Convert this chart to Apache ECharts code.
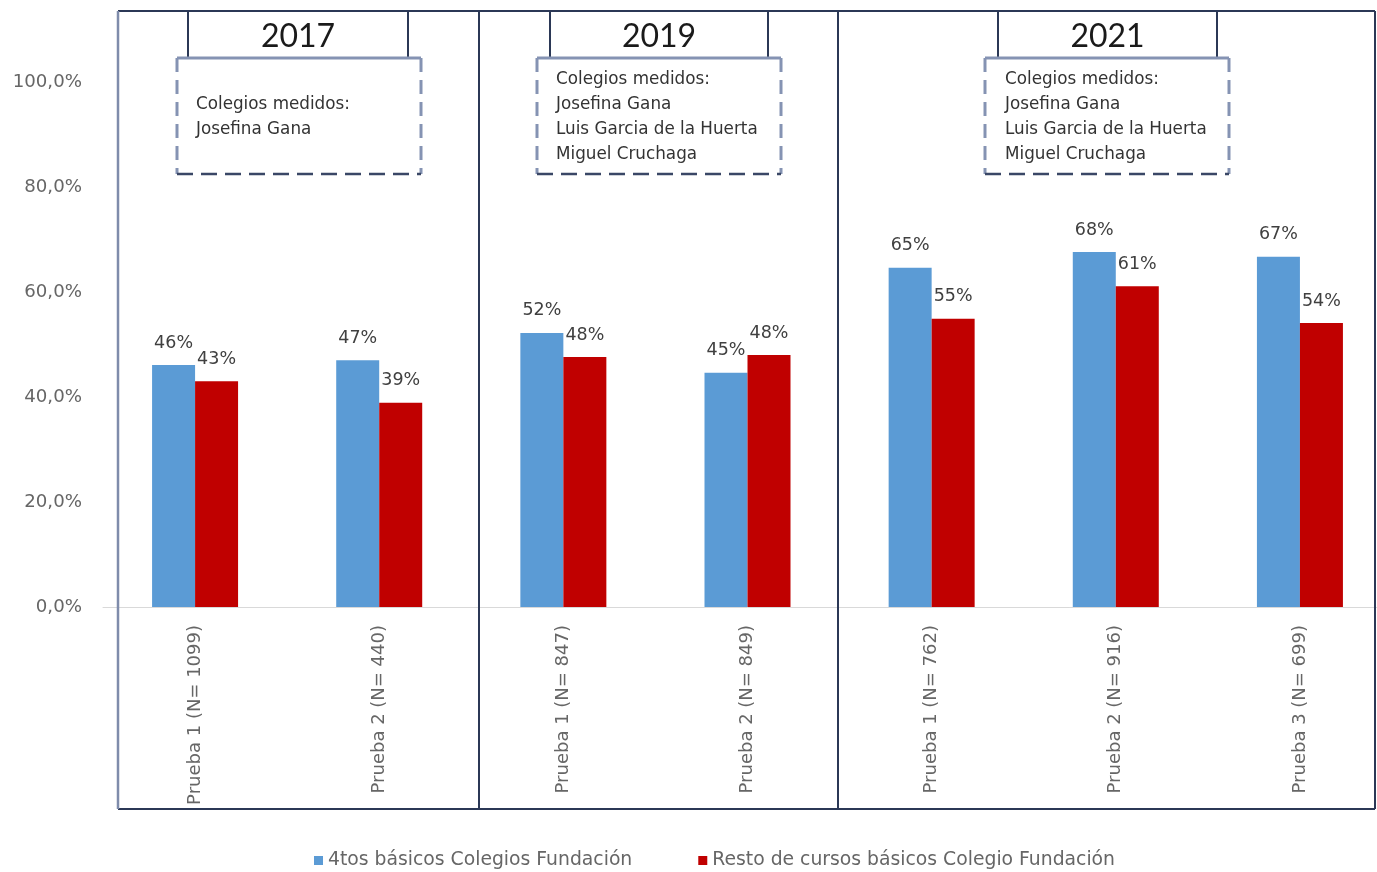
<!DOCTYPE html>
<html>
<head>
<meta charset="utf-8">
<script src="https://cdn.jsdelivr.net/npm/echarts@6/dist/echarts.min.js"></script>
<style>
html,body{margin:0;padding:0;background:#fff;overflow:hidden;}
#chart{width:1400px;height:872px;}
</style>
</head>
<body>
<div id="chart"></div>
<script>
var categories = ['Prueba 1 (N= 1099)', 'Prueba 2 (N= 440)', 'Prueba 1 (N= 847)', 'Prueba 2 (N= 849)', 'Prueba 1 (N= 762)', 'Prueba 2 (N= 916)', 'Prueba 3 (N= 699)'];
var seriesNames = ['4tos básicos Colegios Fundación', 'Resto de cursos básicos Colegio Fundación'];
var bluevals = [46.1, 47.0, 52.2, 44.6, 64.6, 67.6, 66.7];
var redvals = [43.0, 38.9, 47.6, 48.0, 54.9, 61.1, 54.1];
var years = ['2017', '2019', '2021'];
var schools = [
  ['Colegios medidos:', 'Josefina Gana'],
  ['Colegios medidos:', 'Josefina Gana', 'Luis Garcia de la Huerta', 'Miguel Cruchaga'],
  ['Colegios medidos:', 'Josefina Gana', 'Luis Garcia de la Huerta', 'Miguel Cruchaga']
];
var yTicks = [0, 20, 40, 60, 80, 100];

var FONT = '"DejaVu Sans", sans-serif';
var TITLEFONT = 'Lato, "Open Sans", sans-serif';
var frameColor = '#2b3856';
var boxColor = '#8593b3';

// decorative frames (pixel layout)
var headers = [
  {hx1: 188, hx2: 408, bx1: 177, bx2: 421, tx: 196, ty: 105},
  {hx1: 550, hx2: 768, bx1: 537, bx2: 781, tx: 556, ty: 80},
  {hx1: 998, hx2: 1217, bx1: 985, bx2: 1229, tx: 1005, ty: 80}
];
var graphics = [];
graphics.push({type: 'line', shape: {x1: 118, y1: 11, x2: 1375, y2: 11}, style: {stroke: frameColor, lineWidth: 2}, z: 10});
graphics.push({type: 'line', shape: {x1: 118, y1: 809, x2: 1375, y2: 809}, style: {stroke: frameColor, lineWidth: 2}, z: 10});
graphics.push({type: 'line', shape: {x1: 118, y1: 11, x2: 118, y2: 809}, style: {stroke: '#7f8cab', lineWidth: 2.5}, z: 10});
graphics.push({type: 'line', shape: {x1: 1375, y1: 11, x2: 1375, y2: 809}, style: {stroke: frameColor, lineWidth: 2}, z: 10});
graphics.push({type: 'line', shape: {x1: 479, y1: 11, x2: 479, y2: 809}, style: {stroke: frameColor, lineWidth: 2}, z: 10});
graphics.push({type: 'line', shape: {x1: 838, y1: 11, x2: 838, y2: 809}, style: {stroke: frameColor, lineWidth: 2}, z: 10});
headers.forEach(function (h, i) {
  graphics.push({type: 'line', shape: {x1: h.hx1, y1: 11, x2: h.hx1, y2: 58}, style: {stroke: frameColor, lineWidth: 2}, z: 10});
  graphics.push({type: 'line', shape: {x1: h.hx2, y1: 11, x2: h.hx2, y2: 58}, style: {stroke: frameColor, lineWidth: 2}, z: 10});
  graphics.push({type: 'text', x: (h.hx1 + h.hx2) / 2, y: 37, style: {text: years[i], font: '32px ' + TITLEFONT, fill: '#1a1a1a', textAlign: 'center', textVerticalAlign: 'middle'}, z: 10});
  graphics.push({type: 'line', shape: {x1: h.bx1, y1: 58, x2: h.bx2, y2: 58}, style: {stroke: boxColor, lineWidth: 3}, z: 10});
  graphics.push({type: 'line', shape: {x1: h.bx1, y1: 58, x2: h.bx1, y2: 174}, style: {stroke: boxColor, lineWidth: 3, lineDash: [14, 8]}, z: 10});
  graphics.push({type: 'line', shape: {x1: h.bx2, y1: 58, x2: h.bx2, y2: 174}, style: {stroke: boxColor, lineWidth: 3, lineDash: [14, 8]}, z: 10});
  graphics.push({type: 'line', shape: {x1: h.bx1, y1: 174, x2: h.bx2, y2: 174}, style: {stroke: '#3a4766', lineWidth: 2.5, lineDash: [16, 8]}, z: 10});
  schools[i].forEach(function (t, j) {
    graphics.push({type: 'text', x: h.tx, y: h.ty + j * 25, style: {text: t, font: '16.8px ' + FONT, fill: '#333333', textAlign: 'left', textVerticalAlign: 'middle'}, z: 10});
  });
});

var labelOpt = {
  show: true, position: 'top', distance: 13,
  fontFamily: FONT, fontSize: 17.5, color: '#404040',
  formatter: function (p) { return Math.round(p.value) + '%'; }
};

var chart = echarts.init(document.getElementById('chart'));
chart.setOption({
  animation: false,
  backgroundColor: '#ffffff',
  grid: {left: 103, top: 82, width: 1289, height: 525, containLabel: false},
  legend: {
    left: 309, top: 846, itemWidth: 9, itemHeight: 9, itemGap: 66, icon: 'rect',
    textStyle: {fontFamily: FONT, fontSize: 18.8, color: '#666666'},
    data: seriesNames
  },
  xAxis: {
    type: 'category', data: categories,
    axisLine: {show: true, lineStyle: {color: '#d9d9d9', width: 1}},
    axisTick: {show: false},
    axisLabel: {rotate: 90, margin: 18, fontFamily: FONT, fontSize: 18, color: '#666666', interval: 0}
  },
  yAxis: {
    type: 'value', min: 0, max: 100, interval: 20,
    splitLine: {show: false},
    axisLine: {show: false}, axisTick: {show: false},
    axisLabel: {margin: 21, fontFamily: FONT, fontSize: 18.2, color: '#666666',
      formatter: function (v) { return v.toFixed(1).replace('.', ',') + '%'; }}
  },
  series: [
    {name: seriesNames[0], type: 'bar', data: bluevals, barWidth: 43, barGap: '0%', itemStyle: {color: '#5b9bd5'}, label: labelOpt},
    {name: seriesNames[1], type: 'bar', data: redvals, barWidth: 43, barGap: '0%', itemStyle: {color: '#c00000'}, label: labelOpt}
  ],
  graphic: graphics
});
</script>
</body>
</html>
